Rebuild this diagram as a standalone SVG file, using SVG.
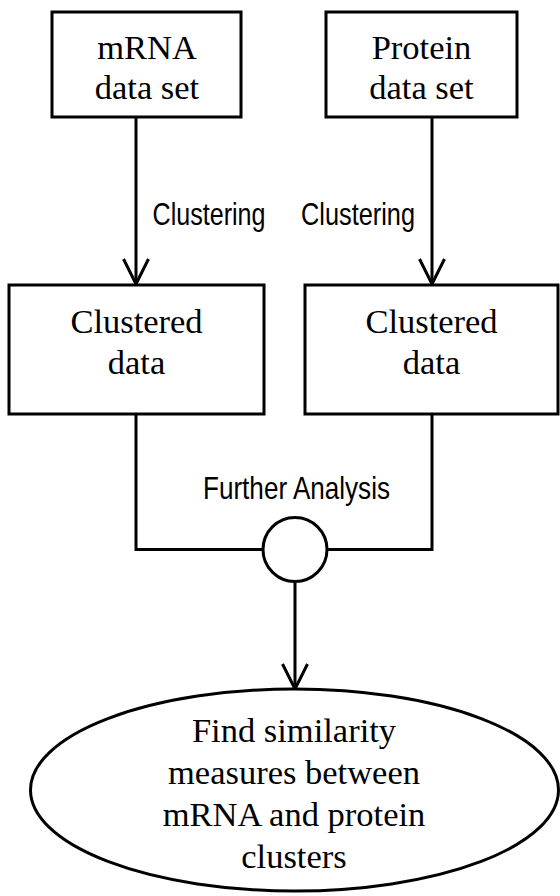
<svg xmlns="http://www.w3.org/2000/svg" width="560" height="896" viewBox="0 0 560 896">
  <style>
    .box { fill: #fff; stroke: #000; stroke-width: 3; }
    .wire { fill: none; stroke: #000; stroke-width: 3; }
    .serif { font-family: "Liberation Serif", "Times New Roman", serif; font-size: 34.5px; fill: #000; text-anchor: middle; }
    .label { font-family: "Liberation Sans Narrow", "Liberation Sans", Arial, sans-serif; font-size: 32px; fill: #000; }
  </style>
  <defs>
    <marker id="arrow" markerUnits="userSpaceOnUse" markerWidth="30" markerHeight="30" viewBox="-28 -15 30 30" refX="0" refY="0" orient="auto">
      <path d="M-25,-12.5 L0,0 L-25,12.5" fill="none" stroke="#000" stroke-width="3"/>
    </marker>
  </defs>
  <rect width="560" height="896" fill="#fff"/>

  <!-- connectors -->
  <g id="connectors">
    <line class="wire" x1="136" y1="117" x2="136" y2="284" marker-end="url(#arrow)"/>
    <line class="wire" x1="432" y1="117" x2="432" y2="284" marker-end="url(#arrow)"/>
    <polyline class="wire" points="136,414 136,549.5 263,549.5"/>
    <polyline class="wire" points="432,414 432,549.5 327,549.5"/>
    <line class="wire" x1="295" y1="581.5" x2="295" y2="689" marker-end="url(#arrow)"/>
    <text class="label" x="152.5" y="225" textLength="113" lengthAdjust="spacingAndGlyphs">Clustering</text>
    <text class="label" x="301" y="225" textLength="114" lengthAdjust="spacingAndGlyphs">Clustering</text>
    <text class="label" x="203" y="499" textLength="187" lengthAdjust="spacingAndGlyphs">Further Analysis</text>
  </g>

  <g id="mrna-data">
    <rect class="box" x="52" y="12" width="189" height="105"/>
    <text class="serif" x="147" y="59">mRNA</text>
    <text class="serif" x="147" y="99">data set</text>
  </g>

  <g id="protein-data">
    <rect class="box" x="326" y="12" width="191" height="105"/>
    <text class="serif" x="421.5" y="59">Protein</text>
    <text class="serif" x="421.5" y="99">data set</text>
  </g>

  <g id="mrna-clustered">
    <rect class="box" x="9" y="285" width="255" height="129"/>
    <text class="serif" x="136.5" y="333">Clustered</text>
    <text class="serif" x="136.5" y="374">data</text>
  </g>

  <g id="protein-clustered">
    <rect class="box" x="305" y="285" width="253" height="129"/>
    <text class="serif" x="431.5" y="333">Clustered</text>
    <text class="serif" x="431.5" y="374">data</text>
  </g>

  <g id="join">
    <circle class="box" cx="295" cy="549.5" r="32"/>
  </g>

  <g id="similarity">
    <ellipse class="box" cx="294.5" cy="790" rx="264" ry="101"/>
    <text class="serif" x="294" y="742">Find similarity</text>
    <text class="serif" x="294" y="784">measures between</text>
    <text class="serif" x="294" y="826">mRNA and protein</text>
    <text class="serif" x="294" y="868">clusters</text>
  </g>
</svg>
